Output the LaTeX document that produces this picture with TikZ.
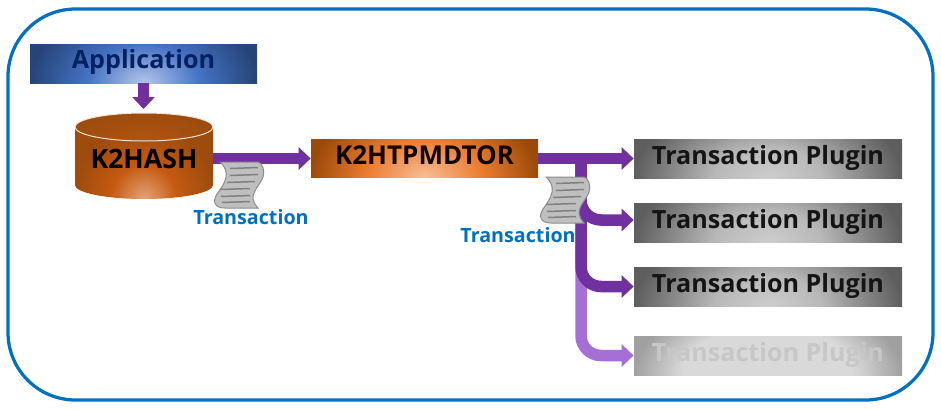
\documentclass[tikz,border=0pt]{standalone}
\usepackage{xcolor}
\usepackage{fontspec}
\usepackage{tikz}
\usetikzlibrary{arrows.meta,calc}
\setmainfont{Open Sans}
\definecolor{Frame}{HTML}{0070C0}
\definecolor{Flow}{HTML}{7030A0}
\definecolor{FlowOff}{HTML}{A66FD6}
\definecolor{AppIn}{HTML}{B4C6EA}
\definecolor{AppMid}{HTML}{4472C4}
\definecolor{AppOut}{HTML}{264478}
\definecolor{AppText}{HTML}{002060}
\definecolor{MdIn}{HTML}{F6BE98}
\definecolor{MdMid}{HTML}{ED7D31}
\definecolor{MdOut}{HTML}{9C4A0A}
\definecolor{CylIn}{HTML}{E4A478}
\definecolor{CylMid}{HTML}{C55A11}
\definecolor{CylOut}{HTML}{9E4C0E}
\definecolor{TopIn}{HTML}{B25410}
\definecolor{PlugIn}{HTML}{CDCDCD}
\definecolor{PlugMid}{HTML}{B8B8B8}
\definecolor{PlugOut}{HTML}{5E5E5E}
\definecolor{OffIn}{HTML}{D9D9D9}
\definecolor{OffOut}{HTML}{A0A0A0}
\pgfdeclareradialshading{AppGlow}{\pgfpoint{0bp}{0bp}}{color(0bp)=(AppIn);color(12.5bp)=(AppMid);color(25bp)=(AppOut);color(50bp)=(AppOut)}
\pgfdeclareradialshading{MdGlow}{\pgfpoint{0bp}{0bp}}{color(0bp)=(MdIn);color(12.5bp)=(MdMid);color(25bp)=(MdOut);color(50bp)=(MdOut)}
\pgfdeclareradialshading{CylGlow}{\pgfpoint{0bp}{0bp}}{color(0bp)=(CylIn);color(12bp)=(CylMid);color(25bp)=(CylOut);color(50bp)=(CylOut)}
\pgfdeclareradialshading{TopGlow}{\pgfpoint{0bp}{0bp}}{color(0bp)=(TopIn);color(25bp)=(CylOut);color(50bp)=(CylOut)}
\pgfdeclareradialshading{PlugGlow}{\pgfpoint{0bp}{0bp}}{color(0bp)=(PlugIn);color(10bp)=(PlugMid);color(25bp)=(PlugOut);color(50bp)=(PlugOut)}
\pgfdeclareradialshading{OffGlow}{\pgfpoint{0bp}{0bp}}{color(0bp)=(OffIn);color(16bp)=(OffIn);color(25bp)=(OffOut);color(50bp)=(OffOut)}
\tikzset{
  glow/.style 2 args={path picture={\shade[shading=#1] ($(path picture bounding box.south west)!-#2!(path picture bounding box.north west)$) rectangle ($(path picture bounding box.south east)!#2!(path picture bounding box.north east)$);}},
  titlebox/.style={inner sep=0pt, text centered, text height=0.38cm, font=\fontsize{14.3}{17}\selectfont\bfseries},
  plugin/.style={titlebox, minimum width=5.36cm, minimum height=0.78cm, text depth=0.16cm, text=black!92, glow={PlugGlow}{2}},
  flow/.style={draw=Flow, line width=0.23cm, rounded corners=0.4cm, -{Triangle[length=0.24cm,width=0.44cm]}},
  flowoff/.style={flow, draw=FlowOff},
  txlabel/.style={inner sep=0pt, text=Frame, font=\fontsize{11.2}{13}\selectfont\bfseries},
  sheet/.style={draw=black!45, line width=0.02cm, fill=black!25},
  sheetline/.style={draw=black!50, line width=0.03cm}
}
\newcommand{\sheeticon}[2]{%
\begin{scope}[shift={(#1,#2)}]%
\draw[sheet] (4.40,4.92) -- (5.16,4.92) .. controls (5.26,4.90) and (5.30,4.72) .. (5.26,4.62) .. controls (5.18,4.40) and (4.92,4.26) .. (5.16,4.00) -- (4.50,4.00) .. controls (4.30,4.00) and (4.24,4.12) .. (4.34,4.28) .. controls (4.52,4.52) and (4.62,4.72) .. (4.40,4.92) -- cycle;%
\draw[sheetline] (4.60,4.79) -- (5.16,4.81);%
\draw[sheetline] (4.60,4.65) -- (5.16,4.67);%
\draw[sheetline] (4.54,4.51) -- (5.10,4.53);%
\draw[sheetline] (4.40,4.37) -- (5.00,4.39);%
\draw[sheetline] (4.42,4.23) -- (5.00,4.25);%
\draw[sheetline] (4.44,4.11) -- (5.00,4.13);%
\end{scope}%
}
\begin{document}
\begin{tikzpicture}%
\useasboundingbox (0,0) rectangle (18.82,8.16);%
\draw[draw=Frame, line width=0.065cm, rounded corners=1.35cm] (0.16,0.16) rectangle (18.66,7.98);%
\path[glow={CylGlow}{1}] (1.50,5.62) -- (1.50,4.46) arc[start angle=180, end angle=360, x radius=1.38, y radius=0.28] -- (4.26,5.62) -- cycle;%
\path[glow={TopGlow}{1}, draw=white!85!CylOut, line width=0.02cm] (2.88,5.62) ellipse (1.38 and 0.28);%
\node[titlebox, minimum width=4.54cm, minimum height=0.78cm, text depth=0.18cm, text=AppText, glow={AppGlow}{2}] (app) at (2.87, 6.89) {Application};%
\node[titlebox, minimum width=2.76cm, minimum height=0.78cm, text depth=0.04cm, font=\fontsize{15.2}{18}\selectfont\bfseries, text=black] (k2hash) at (2.88, 4.97) {K2HASH};%
\node[titlebox, minimum width=4.54cm, minimum height=0.76cm, text depth=0.16cm, font=\fontsize{14.8}{18}\selectfont\bfseries, text=black!90!MdOut, glow={MdGlow}{2}] (k2htp) at (8.49, 4.99) {K2HTPMDTOR};%
\node[plugin] (plugin1) at (15.36, 4.99) {Transaction Plugin};%
\node[plugin] (plugin2) at (15.36, 3.71) {Transaction Plugin};%
\node[plugin] (plugin3) at (15.36, 2.43) {Transaction Plugin};%
\node[plugin, text=black!22, glow={OffGlow}{2}] (plugin4) at (15.36, 1.05) {Transaction Plugin};%
\coordinate (k2hashtop) at (2.87, 5.98);%
\coordinate (branch) at (11.62, 4.99);%
\draw[flow] (app.south) -- (k2hashtop);%
\draw[flow] (k2hash.east |- k2htp.west) -- (k2htp.west);%
\draw[flowoff] (branch) |- (plugin4.west);%
\draw[flow] (k2htp.east) -- (plugin1.west);%
\draw[flow] (branch) |- ([yshift=0.05cm]plugin2.west);%
\draw[flow] (branch) |- (plugin3.west);%
\sheeticon{0}{0}%
\sheeticon{6.52}{-0.30}%
\node[txlabel] (tx1) at (5.02, 3.82) {Transaction};%
\node[txlabel] (tx2) at (10.36, 3.46) {Transaction};%
\end{tikzpicture}
\end{document}
